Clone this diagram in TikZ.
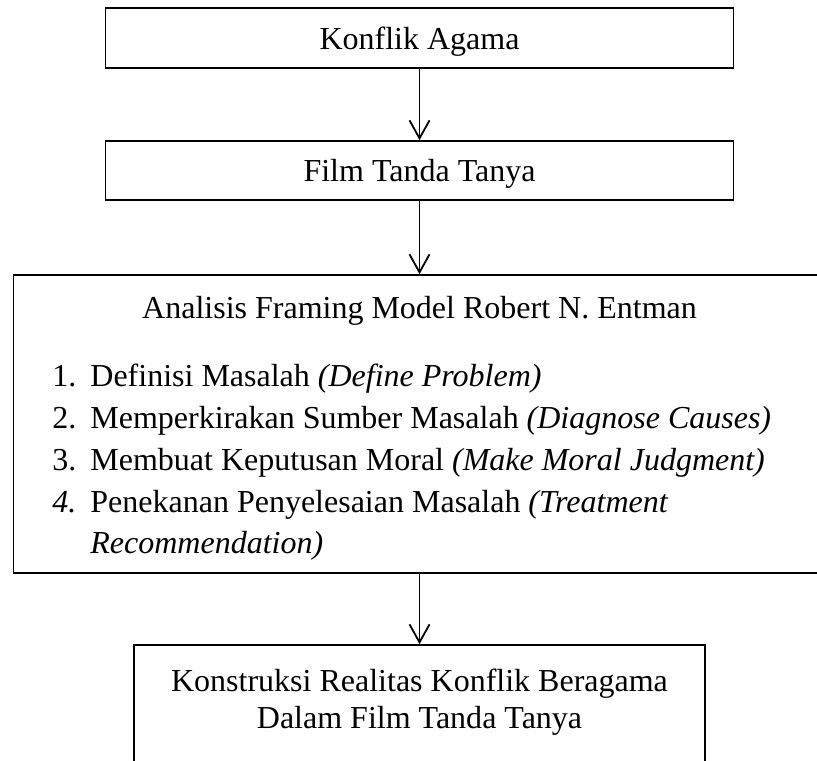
\documentclass[tikz,border=0pt]{standalone}
\usepackage{fontspec}
\setmainfont{Liberation Serif}
\usetikzlibrary{arrows.meta}
\tikzset{
  box/.style={draw=black, line width=0.8pt, inner sep=0pt, fill=none},
  txt/.style={inner sep=0pt, font=\fontsize{16pt}{21pt}\selectfont},
  conn/.style={draw=black, line width=0.9pt, -{Straight Barb[length=9pt,width=10pt,line width=0.9pt]}}
}
\begin{document}
\begin{tikzpicture}[x=0.5pt,y=-0.5pt]
\useasboundingbox (0,0) rectangle (817,760);
\clip (0,0) rectangle (817,760);
% boxes
\node[box, minimum width=314pt, minimum height=30pt] (b1) at (419.5,38) {};
\node[box, minimum width=314pt, minimum height=29.5pt] (b2) at (419.5,170.5) {};
\node[box, minimum width=406pt, minimum height=149pt] (b3) at (419.5,424) {};
\node[box, minimum width=285.5pt, minimum height=65pt] (b4) at (419.5,710) {};
% texts
\node[txt, anchor=base] (t1) at (419.5,49) {Konflik Agama};
\node[txt, anchor=base] (t2) at (419.5,181) {Film Tanda Tanya};
\node[txt, anchor=base] (t3) at (419.5,318) {Analisis Framing Model Robert N. Entman};
\node[txt, anchor=base west] (n1) at (52,386) {1.};
\node[txt, anchor=base west] (i1) at (90,386) {Definisi Masalah \textit{(Define Problem)}};
\node[txt, anchor=base west] (n2) at (52,428) {2.};
\node[txt, anchor=base west] (i2) at (90,428) {Memperkirakan Sumber Masalah \textit{(Diagnose Causes)}};
\node[txt, anchor=base west] (n3) at (52,470) {3.};
\node[txt, anchor=base west] (i3) at (90,470) {Membuat Keputusan Moral \textit{(Make Moral Judgment)}};
\node[txt, anchor=base west] (n4) at (52,512) {\textit{4.}};
\node[txt, anchor=base west] (i4) at (90,512) {Penekanan Penyelesaian Masalah \textit{(Treatment}};
\node[txt, anchor=base west] (i5) at (90,553) {\textit{Recommendation)}};
\node[txt, anchor=base] (t4a) at (419.5,691) {Konstruksi Realitas Konflik Beragama};
\node[txt, anchor=base] (t4b) at (419.5,728) {Dalam Film Tanda Tanya};
% connectors
\draw[conn] (b1.south) -- (b2.north);
\draw[conn] (b2.south) -- (b3.north);
\draw[conn] (b3.south) -- (b4.north);
\end{tikzpicture}
\end{document}
